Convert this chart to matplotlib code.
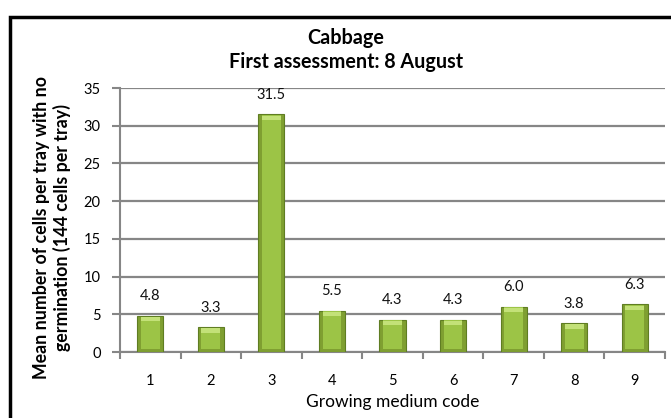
import matplotlib
matplotlib.use("Agg")
import matplotlib.pyplot as plt
from matplotlib.patches import Rectangle

categories = ["1", "2", "3", "4", "5", "6", "7", "8", "9"]
values = [4.8, 3.3, 31.5, 5.5, 4.3, 4.3, 6.0, 3.8, 6.3]
labels = ["4.8", "3.3", "31.5", "5.5", "4.3", "4.3", "6.0", "3.8", "6.3"]
yticks = [0, 5, 10, 15, 20, 25, 30, 35]

plt.rcParams['font.family'] = ['Lato', 'DejaVu Sans']

fig = plt.figure(figsize=(6.71, 4.18), dpi=100)
fig.patch.set_facecolor('white')
# outer frame
fig.add_artist(Rectangle((10/671, -0.1), 1.2, 0.1 + (1 - 17/418), transform=fig.transFigure,
                         fill=False, edgecolor='black', linewidth=2.5))

ax = fig.add_axes([120/671, 1 - 352/418, 545/671, 264/418])
x = list(range(len(categories)))
w = 0.43
ax.bar(x, values, width=w, color='#7f9f31', edgecolor='#5f7d22', linewidth=0.8, zorder=3)
# inner body for bevel look
ax.bar(x, [v - 0.45 for v in values], bottom=0.35, width=w * 0.72, color='#9cc446', linewidth=0, zorder=4)
# top highlight
ax.bar(x, [0.6] * len(values), bottom=[v - 0.75 for v in values], width=w * 0.72,
       color='#c3e178', linewidth=0, zorder=5)

for xi, v, lab in zip(x, values, labels):
    ax.annotate(lab, (xi, v), xytext=(0, 9), textcoords='offset points', ha='center', va='bottom',
                fontsize=10.5, color='#111111')

ax.set_xlim(-0.5, len(categories) - 0.5)
ax.set_ylim(0, 35)
ax.set_yticks(yticks)
ax.set_yticklabels([str(t) for t in yticks], fontsize=10.5)
ax.set_xticks(x)
ax.set_xticklabels(categories, fontsize=10.5)
ax.set_xticks([i - 0.5 for i in range(len(categories) + 1)], minor=True)
ax.tick_params(axis='x', which='major', length=0, pad=16)
ax.tick_params(axis='x', which='minor', length=5, width=1.5, color='#868686')
ax.tick_params(axis='y', length=6, width=1.5, color='#868686', pad=8)
ax.yaxis.grid(True, color='#868686', linewidth=1.6, zorder=0)
ax.set_axisbelow(True)
for s in ['top', 'right']:
    ax.spines[s].set_visible(False)
for s in ['left', 'bottom']:
    ax.spines[s].set_color('#868686')
    ax.spines[s].set_linewidth(1.5)

ax.set_xlabel("Growing medium code", fontsize=12.5, labelpad=4)
ax.set_ylabel("Mean number of cells per tray with no\ngermination (144 cells per tray)",
              fontsize=12.8, fontweight='bold', linespacing=1.22)
ax.yaxis.set_label_coords(-0.09, 0.47)
fig.text(346 / 671, 1 - 50 / 418, "Cabbage\nFirst assessment: 8 August",
         ha='center', va='center', fontsize=14.2, fontweight='bold', linespacing=1.3)

fig.savefig("out.png", dpi=100)
